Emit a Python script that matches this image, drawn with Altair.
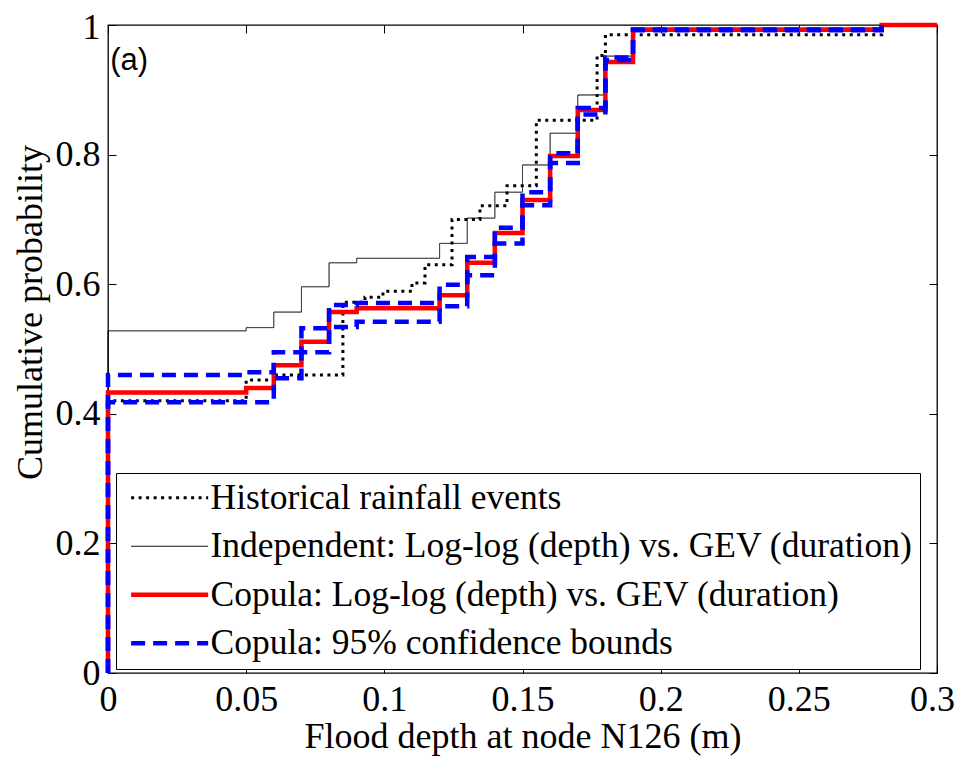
import altair as alt
import pandas as pd

# ---------------- data ----------------
labels = [
    "Historical rainfall events",
    "Independent: Log-log (depth) vs. GEV (duration)",
    "Copula: Log-log (depth) vs. GEV (duration)",
    "Copula: 95% confidence bounds",
]

hist_x = [0, 0, 0.05, 0.06, 0.085, 0.093, 0.0995, 0.11, 0.1147, 0.1245, 0.1346, 0.1444, 0.155, 0.177, 0.18, 0.28]
hist_y = [0, 0.42, 0.452, 0.46, 0.572, 0.58, 0.589, 0.602, 0.63, 0.70, 0.721, 0.752, 0.853, 0.953, 0.985, 1.0]

indep_x = [0, 0, 0.05, 0.06, 0.07, 0.08, 0.09, 0.12, 0.13, 0.14, 0.15, 0.16, 0.17, 0.1795, 0.19, 0.28]
indep_y = [0, 0.528, 0.533, 0.557, 0.596, 0.633, 0.64, 0.663, 0.702, 0.742, 0.784, 0.833, 0.892, 0.952, 0.99, 1.0]

cop_x = [0, 0, 0.05, 0.06, 0.07, 0.08, 0.09, 0.12, 0.13, 0.14, 0.15, 0.16, 0.17, 0.18, 0.19, 0.28, 0.30]
cop_y = [0, 0.433, 0.44, 0.475, 0.511, 0.557, 0.563, 0.583, 0.633, 0.679, 0.73, 0.798, 0.869, 0.943, 0.993, 1.0, 1.0]

up_x = [0, 0, 0.05, 0.06, 0.07, 0.08, 0.09, 0.12, 0.13, 0.14, 0.15, 0.16, 0.17, 0.18, 0.19, 0.28]
up_y = [0, 0.46, 0.464, 0.495, 0.532, 0.568, 0.571, 0.599, 0.642, 0.687, 0.742, 0.802, 0.872, 0.95, 0.993, 1.0]

lo_x = [0, 0, 0.06, 0.07, 0.08, 0.09, 0.12, 0.13, 0.14, 0.15, 0.16, 0.17, 0.18, 0.19, 0.28]
lo_y = [0, 0.418, 0.455, 0.495, 0.534, 0.542, 0.566, 0.614, 0.663, 0.722, 0.787, 0.862, 0.946, 0.992, 1.0]

x_ticks = [0, 0.05, 0.1, 0.15, 0.2, 0.25, 0.3]
y_ticks = [0, 0.2, 0.4, 0.6, 0.8, 1.0]

annot_x = [0.0008]
annot_y = [0.945]
annot_text = ["(a)"]

# ---------------- build table ----------------
rows = []
def add(xs, ys, label, series):
    for i, (a, b) in enumerate(zip(xs, ys)):
        rows.append(dict(x=a, y=b, label=label, series=series, idx=i))

add(hist_x, hist_y, labels[0], "hist")
add(indep_x, indep_y, labels[1], "indep")
add(cop_x, cop_y, labels[2], "cop")
add(up_x, up_y, labels[3], "upper")
add(lo_x, lo_y, labels[3], "lower")
df = pd.DataFrame(rows)
annot = pd.DataFrame({"x": annot_x, "y": annot_y, "t": annot_text})

SERIF = "Liberation Serif"
FS = 36

xscale = alt.Scale(domain=[0, 0.3], nice=False, zero=False)
yscale = alt.Scale(domain=[0, 1], nice=False, zero=False)

color = alt.Color("label:N", title=None,
                  scale=alt.Scale(domain=labels, range=["#000000", "#000000", "#ff0000", "#0000ff"]))
dash = alt.StrokeDash("label:N", title=None,
                      scale=alt.Scale(type="ordinal", domain=labels,
                                      range=[[3, 4.5], [1, 0], [1, 0], [14, 8]]))
swidth = alt.StrokeWidth("label:N", title=None,
                         scale=alt.Scale(type="ordinal", domain=labels, range=[3, 1, 4.5, 4.5]))

x_axis = alt.Axis(orient="bottom", values=x_ticks, format="~g", offset=-8, tickSize=8,
                  labelPadding=9, labelFlush=False,
                  labelOffset={"condition": {"test": "datum.value >= 0.29", "value": -5}, "value": 0},
                  title="Flood depth at node N126 (m)",
                  titlePadding=2, domain=False, grid=False)
y_axis = alt.Axis(orient="left", values=y_ticks, format="~g", offset=-8, tickSize=8,
                  labelPadding=8, labelFlush=False,
                  labelOffset={"condition": {"test": "datum.value >= 0.99", "value": 2}, "value": 0},
                  title="Cumulative probability",
                  titleX=-75, titleY=287, titleAngle=270, titleBaseline="alphabetic",
                  titleAlign="center", domain=False, grid=False)

layers = []
for k, lab in enumerate(labels):
    base = alt.Chart(df).transform_filter(alt.datum.label == lab).mark_line(interpolate="step-after")
    if k == 0:
        xe = alt.X("x:Q", scale=xscale, axis=x_axis)
        ye = alt.Y("y:Q", scale=yscale, axis=y_axis)
    else:
        xe = alt.X("x:Q", scale=xscale, axis=None)
        ye = alt.Y("y:Q", scale=yscale, axis=None)
    layers.append(base.encode(x=xe, y=ye, color=color, strokeDash=dash, strokeWidth=swidth,
                              detail="series:N", order="idx:Q"))

text_layer = alt.Chart(annot).mark_text(font="Liberation Sans", fontSize=31, align="left",
                                        baseline="middle", color="black").encode(
    x=alt.X("x:Q", scale=xscale,
            axis=alt.Axis(orient="top", values=x_ticks, labels=False, title=None, offset=-8,
                          tickSize=8, domain=False, grid=False)),
    y=alt.Y("y:Q", scale=yscale,
            axis=alt.Axis(orient="right", values=y_ticks, labels=False, title=None, offset=-8,
                          tickSize=8, domain=False, grid=False)),
    text="t:N",
)

chart = alt.layer(*layers, text_layer).resolve_axis(x="independent", y="independent").properties(
    width=829, height=648, autosize="none",
    padding={"left": 100, "top": 17, "right": 18, "bottom": 88},
).configure_axis(
    labelFont=SERIF, labelFontSize=FS, titleFont=SERIF, titleFontSize=FS,
    titleFontWeight="normal", labelColor="black", titleColor="black", tickColor="black",
    tickWidth=1,
).configure_legend(
    orient="none", legendX=8, legendY=448, padding=7, strokeColor="black", fillColor="white",
    labelFont=SERIF, labelFontSize=35.5, labelColor="black", labelLimit=1200,
    symbolSize=371, symbolType="M-1,0H7", labelOffset=52, rowPadding=11.5, cornerRadius=0,
).configure_view(stroke="black", strokeWidth=1.3)

chart.save("out.html", embed_options={"renderer": "svg", "actions": False})
